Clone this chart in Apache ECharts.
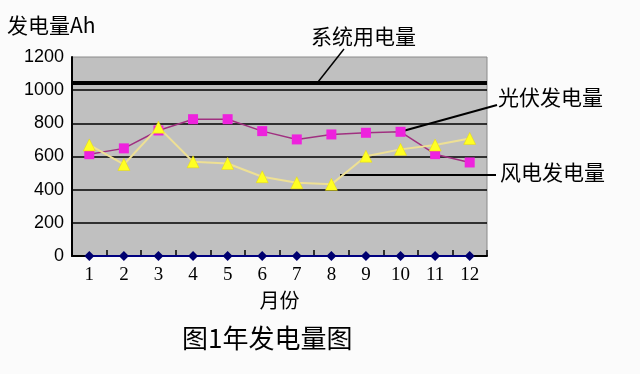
<!DOCTYPE html>
<html>
<head>
<meta charset="utf-8">
<script src="https://cdn.jsdelivr.net/npm/echarts@6/dist/echarts.min.js"></script>
<style>html,body{margin:0;padding:0;background:#fbfbfb;}#c{width:640px;height:374px;}</style>
</head>
<body>
<div id="c"></div>
<script>
const months = ['1','2','3','4','5','6','7','8','9','10','11','12'];
const pvValues = [614, 649, 757, 825, 825, 753, 703, 733, 743, 749, 614, 564];
const windValues = [670, 552, 777, 568, 558, 478, 442, 432, 602, 643, 669, 709];
const zeroValues = [0,0,0,0,0,0,0,0,0,0,0,0];
const systemLoad = 1045;
const yTicks = [0, 200, 400, 600, 800, 1000, 1200];

const chart = echarts.init(document.getElementById('c'), null, {renderer:'canvas'});
const cjk = '"Noto Sans CJK SC", sans-serif';
chart.setOption({
  backgroundColor: '#fbfbfb',
  animation: false,
  title: {
    text: '图1年发电量图', left: 177, top: 320,
    textStyle: {fontFamily: cjk, fontSize: 26, fontWeight: 'normal', color: '#000'}
  },
  grid: {left: 72, right: 153, top: 57, bottom: 118, show: true,
         backgroundColor: '#c0c0c0', borderColor: '#8a8a8a', borderWidth: 1},
  xAxis: {
    type: 'category', data: months, boundaryGap: true,
    name: '月份', nameLocation: 'middle', nameGap: 34,
    nameTextStyle: {fontFamily: cjk, fontSize: 20, color: '#000'},
    axisLine: {lineStyle: {color: '#000', width: 2}},
    axisTick: {show: true, inside: true, length: 6, lineStyle: {color: '#000', width: 1.5}},
    axisLabel: {fontFamily: '"Liberation Serif", serif', fontSize: 19, color: '#000', margin: 10},
    splitLine: {show: false}
  },
  yAxis: {
    type: 'value', min: yTicks[0], max: yTicks[yTicks.length-1], interval: 200,
    axisLine: {show: true, lineStyle: {color: '#000', width: 2}},
    axisTick: {show: false},
    axisLabel: {fontFamily: '"Liberation Sans", Arial, sans-serif', fontSize: 18, color: '#000', margin: 8,
                formatter: function (v) { return String(v); }},
    splitLine: {show: true, showMinLine: false, showMaxLine: false, lineStyle: {color: '#000', width: 1.5}}
  },
  series: [
    {
      name: '风电发电量', type: 'line', data: windValues,
      symbol: 'triangle', symbolSize: 12,
      lineStyle: {color: '#eee094', width: 2},
      itemStyle: {color: '#ffff22', borderColor: '#e8d800', borderWidth: 0.5},
      z: 3
    },
    {
      name: '光伏发电量', type: 'line', data: pvValues,
      symbol: 'rect', symbolSize: 10,
      lineStyle: {color: '#a03080', width: 1.5},
      itemStyle: {color: '#ee22dd'},
      z: 2
    },
    {
      name: '系统用电量', type: 'line', data: zeroValues,
      symbol: 'diamond', symbolSize: 10,
      lineStyle: {color: '#000080', width: 2},
      itemStyle: {color: '#000070'},
      z: 4,
      markLine: {
        silent: true, symbol: 'none', label: {show: false},
        lineStyle: {color: '#000', width: 4, type: 'solid'},
        data: [{yAxis: systemLoad}]
      }
    }
  ],
  graphic: [
    {type: 'text', left: 7, top: 15, style: {text: '发电量Ah', font: '21px ' + cjk, fill: '#000'}},
    {type: 'text', left: 311, top: 26, style: {text: '系统用电量', font: '21px ' + cjk, fill: '#000'}},
    {type: 'text', left: 498, top: 87, style: {text: '光伏发电量', font: '21px ' + cjk, fill: '#000'}},
    {type: 'text', left: 500, top: 162, style: {text: '风电发电量', font: '21px ' + cjk, fill: '#000'}},
    {type: 'line', shape: {x1: 318, y1: 82, x2: 344, y2: 49}, style: {stroke: '#000', lineWidth: 1.5}},
    {type: 'line', shape: {x1: 403, y1: 131, x2: 497, y2: 105}, style: {stroke: '#000', lineWidth: 2}},
    {type: 'line', shape: {x1: 340, y1: 175, x2: 496, y2: 175}, style: {stroke: '#000', lineWidth: 2}}
  ]
});
</script>
</body>
</html>
